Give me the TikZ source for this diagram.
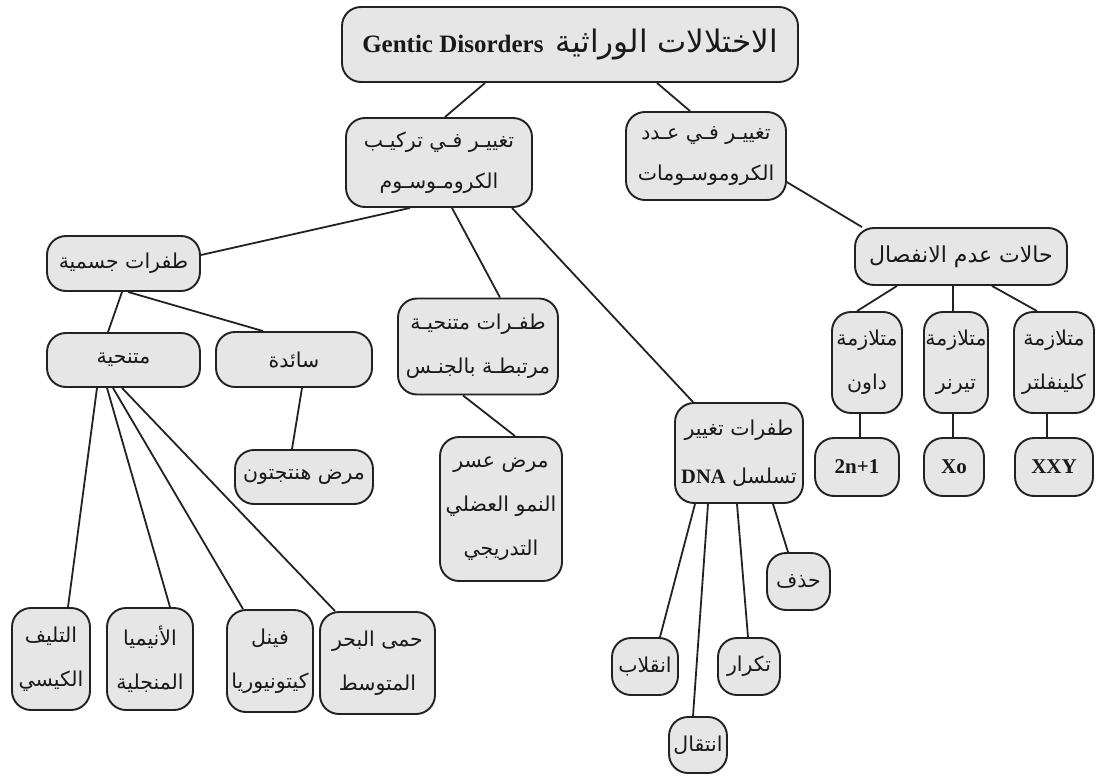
\documentclass[tikz,border=0pt]{standalone}
\usepackage{fontspec}
\setmainfont{Liberation Serif}
\newfontfamily\arabicfont[Script=Arabic]{DejaVu Sans}
\TeXXeTstate=1
\newcommand\ar[1]{{\arabicfont\beginR #1\endR}}
\newcommand\lat[1]{\beginL{\rmfamily\bfseries #1}\endL}
\usetikzlibrary{backgrounds}
\definecolor{boxfill}{HTML}{E6E6E6}
\definecolor{edgecol}{HTML}{222222}
\tikzset{
  box/.style={draw=edgecol, line width=1.9pt, fill=boxfill, rounded corners=19pt,
    inner sep=0pt, align=center, text=black!90, font=\fontsize{20.5}{44}\selectfont},
  link/.style={draw=edgecol, line width=1.8pt},
}
\begin{document}
\begin{tikzpicture}[x=1pt,y=-1pt]
\useasboundingbox (0,0) rectangle (1098,776);
% nodes
\node[box, minimum width=456pt, minimum height=75pt, font=\fontsize{31}{34}\selectfont] (root) at (570,44.5)
  {\ar{الاختلالات الوراثية\hspace{12pt}\lat{\fontsize{25}{34}\selectfont Gentic Disorders}}};
\node[box, minimum width=186pt, minimum height=89pt, font=\fontsize{20.5}{41}\selectfont] (tarkib) at (439,162.5)
  {\ar{تغييـر فـي تركيـب}\\\ar{الكرومـوسـوم}};
\node[box, minimum width=160pt, minimum height=88pt, font=\fontsize{20.5}{41}\selectfont] (adad) at (706,156)
  {\ar{تغييـر فـي عـدد}\\\ar{الكروموسـومات}};
\node[box, minimum width=153pt, minimum height=55pt] (jismiya) at (123.5,263.5) {\ar{طفرات جسمية}};
\node[box, minimum width=153pt, minimum height=54pt] (mutanahiya) at (123.5,360) {\ar{متنحية}};
\node[box, minimum width=156pt, minimum height=55pt] (saida) at (294,359.5) {\ar{سائدة}};
\node[box, minimum width=160pt, minimum height=96pt] (jins) at (478,346.5)
  {\ar{طفـرات متنحيـة}\\\ar{مرتبطـة بالجنـس}};
\node[box, minimum width=138pt, minimum height=54pt] (hunt) at (304,477) {\ar{مرض هنتجتون}};
\node[box, minimum width=122pt, minimum height=144pt] (usr) at (501,509)
  {\ar{مرض عسر}\\\ar{النمو العضلي}\\\ar{التدريجي}};
\node[box, minimum width=128pt, minimum height=100pt, font=\fontsize{20.5}{48}\selectfont] (dna) at (739,453)
  {\ar{طفرات تغيير}\\\ar{تسلسل \lat{DNA}}};
\node[box, minimum width=212pt, minimum height=57pt, font=\fontsize{22}{44}\selectfont] (halat) at (961,256.5) {\ar{حالات عدم الانفصال}};
\node[box, minimum width=70pt, minimum height=101pt] (daun) at (867,362.5) {\ar{متلازمة}\\\ar{داون}};
\node[box, minimum width=64pt, minimum height=101pt] (turner) at (956,362.5) {\ar{متلازمة}\\\ar{تيرنر}};
\node[box, minimum width=80pt, minimum height=101pt] (klein) at (1054,362.5) {\ar{متلازمة}\\\ar{كلينفلتر}};
\node[box, minimum width=84pt, minimum height=58pt, font=\fontsize{21}{24}\selectfont\bfseries] (twon) at (857,467) {2n+1};
\node[box, minimum width=60pt, minimum height=58pt, font=\fontsize{21}{24}\selectfont\bfseries] (xo) at (954,467) {Xo};
\node[box, minimum width=78pt, minimum height=58pt, font=\fontsize{21}{24}\selectfont\bfseries] (xxy) at (1054,467) {XXY};
\node[box, minimum width=63pt, minimum height=57pt] (hadhf) at (798.5,581.5) {\ar{حذف}};
\node[box, minimum width=66pt, minimum height=57pt] (inqilab) at (645,666.5) {\ar{انقلاب}};
\node[box, minimum width=62pt, minimum height=57pt] (takrar) at (749,666.5) {\ar{تكرار}};
\node[box, minimum width=58pt, minimum height=56pt] (intiqal) at (698,745) {\ar{انتقال}};
\node[box, minimum width=78pt, minimum height=102pt] (talyif) at (51,659) {\ar{التليف}\\\ar{الكيسي}};
\node[box, minimum width=86pt, minimum height=102pt] (anemia) at (150,659) {\ar{الأنيميا}\\\ar{المنجلية}};
\node[box, minimum width=86pt, minimum height=102pt] (phenyl) at (270,661) {\ar{فينل}\\\ar{كيتونيوريا}};
\node[box, minimum width=115pt, minimum height=102pt] (hummah) at (377.5,663) {\ar{حمى البحر}\\\ar{المتوسط}};
% connectors
\begin{pgfonlayer}{background}
\draw[link] ([xshift=-85pt]root.south) -- ([xshift=6pt]tarkib.north);
\draw[link] ([xshift=87pt]root.south) -- ([xshift=-16pt]adad.north);
\draw[link] ([xshift=-29pt]tarkib.south) -- ([yshift=8.5pt]jismiya.east);
\draw[link] ([xshift=13pt]tarkib.south) -- ([xshift=22pt]jins.north);
\draw[link] ([xshift=73pt]tarkib.south) -- ([xshift=-46pt]dna.north);
\draw[link] ([xshift=64pt,yshift=-16pt]adad.center) -- ([xshift=-99pt]halat.north);
\draw[link] ([xshift=-1.5pt]jismiya.south) -- ([xshift=-15.5pt]mutanahiya.north);
\draw[link] ([xshift=4.5pt]jismiya.south) -- ([xshift=-31pt]saida.north);
\draw[link] ([xshift=8pt]saida.south) -- ([xshift=-12pt]hunt.north);
\draw[link] ([xshift=-15pt]jins.south) -- ([xshift=14pt]usr.north);
\draw[link] ([xshift=-26.5pt]mutanahiya.south) -- ([xshift=17pt]talyif.north);
\draw[link] ([xshift=-16.5pt]mutanahiya.south) -- ([xshift=20pt]anemia.north);
\draw[link] ([xshift=-10.5pt]mutanahiya.south) -- ([xshift=-27pt]phenyl.north);
\draw[link] ([xshift=-1.5pt]mutanahiya.south) -- ([xshift=-42.5pt]hummah.north);
\draw[link] ([xshift=-44pt]dna.south) -- ([xshift=15pt]inqilab.north);
\draw[link] ([xshift=-31pt]dna.south) -- ([xshift=-5pt]intiqal.north);
\draw[link] ([xshift=-2pt]dna.south) -- ([xshift=-1pt]takrar.north);
\draw[link] ([xshift=34pt]dna.south) -- ([xshift=-10.5pt]hadhf.north);
\draw[link] ([xshift=-64pt]halat.south) -- ([xshift=-10pt]daun.north);
\draw[link] ([xshift=-8pt]halat.south) -- ([xshift=-3pt]turner.north);
\draw[link] ([xshift=31pt]halat.south) -- ([xshift=-17pt]klein.north);
\draw[link] ([xshift=-7pt]daun.south) -- ([xshift=3pt]twon.north);
\draw[link] ([xshift=-3pt]turner.south) -- ([xshift=-1pt]xo.north);
\draw[link] ([xshift=-7pt]klein.south) -- ([xshift=-7pt]xxy.north);
\end{pgfonlayer}
\end{tikzpicture}
\end{document}
